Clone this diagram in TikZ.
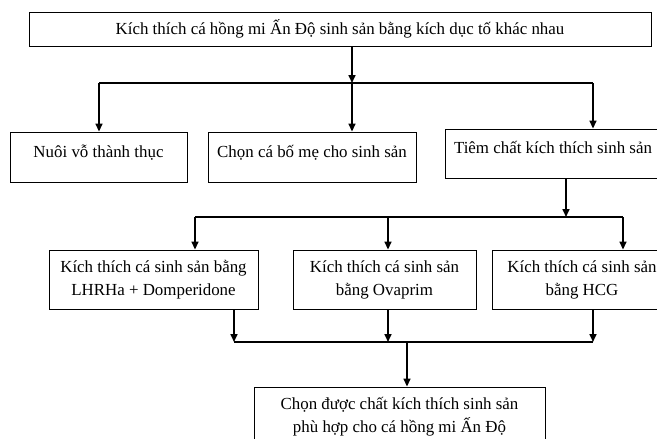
\documentclass[tikz,border=0pt]{standalone}
\usepackage{fontspec}
\setmainfont{Liberation Serif}
\usetikzlibrary{arrows.meta}

\begin{document}
\begin{tikzpicture}[x=1pt, y=-1pt, font=\fontsize{16.9}{23}\selectfont, box/.style={draw, line width=0.9pt, align=center, inner sep=0pt}, onerow/.style={text height=12pt, text depth=12pt}, link/.style={line width=1.6pt}, arr/.style={link, -{Triangle[length=8pt, width=7pt]}}]
  \useasboundingbox (0,0) rectangle (657,439);
  \node[box, minimum width=622, minimum height=34] (goal) at (340,29) {Kích thích cá hồng mi Ấn Độ sinh sản bằng kích dục tố khác nhau};
  \node[box, onerow, minimum width=177, minimum height=50] (nuoi) at (98.5,157) {Nuôi vỗ thành thục};
  \node[box, onerow, minimum width=208, minimum height=50] (chon) at (312,157) {Chọn cá bố mẹ cho sinh sản};
  \node[box, onerow, minimum width=216, minimum height=49] (tiem) at (553,153.5) {Tiêm chất kích thích sinh sản};
  \node[box, minimum width=209, minimum height=59] (lhrha) at (153.5,279.5) {Kích thích cá sinh sản bằng\\ LHRHa + Domperidone};
  \node[box, minimum width=183, minimum height=59] (ovaprim) at (384.5,279.5) {Kích thích cá sinh sản\\bằng Ovaprim};
  \node[box, minimum width=180, minimum height=59] (hcg) at (582,279.5) {Kích thích cá sinh sản\\bằng HCG};
  \node[box, minimum width=291, minimum height=60] (ketqua) at (399.5,417) {Chọn được chất kích thích sinh sản\\phù hợp cho cá hồng mi Ấn Độ};

  \coordinate (s1) at (352,83);
  \coordinate (s1l) at (99,83);
  \coordinate (s1r) at (593,83);
  \draw[arr] (goal.south -| s1) -- (s1);
  \draw[link] (s1l) -- (s1r);
  \draw[arr] (s1l) -- (s1l |- nuoi.north);
  \draw[arr] (s1) -- (s1 |- chon.north);
  \draw[arr] (s1r) -- (s1r |- tiem.north);

  \coordinate (s2) at (566,217);
  \coordinate (s2l) at (195,217);
  \coordinate (s2m) at (388,217);
  \coordinate (s2r) at (623,217);
  \draw[arr] (tiem.south -| s2) -- (s2);
  \draw[link] (s2l) -- (s2r);
  \draw[arr] (s2l) -- (s2l |- lhrha.north);
  \draw[arr] (s2m) -- (s2m |- ovaprim.north);
  \draw[arr] (s2r) -- (s2r |- hcg.north);

  \coordinate (s3) at (407,342);
  \coordinate (s3l) at (234,342);
  \coordinate (s3m) at (388,342);
  \coordinate (s3r) at (593,342);
  \draw[arr] (lhrha.south -| s3l) -- (s3l);
  \draw[arr] (ovaprim.south -| s3m) -- (s3m);
  \draw[arr] (hcg.south -| s3r) -- (s3r);
  \draw[link] (s3l) -- (s3r);
  \draw[arr] (s3) -- (ketqua.north -| s3);
\end{tikzpicture}
\end{document}
